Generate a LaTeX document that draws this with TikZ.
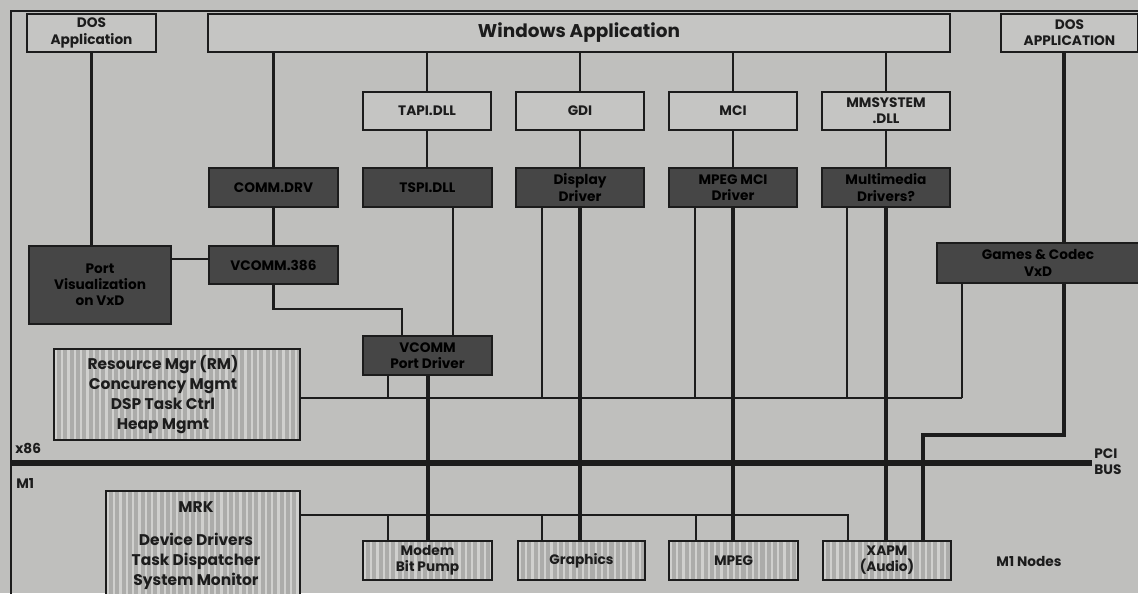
\documentclass[tikz,border=0pt]{standalone}
\usepackage{fontspec}
\setmainfont{Poppins}
\usetikzlibrary{calc}
\definecolor{bg}{RGB}{191,191,189}
\definecolor{lbg}{RGB}{197,197,195}
\definecolor{dk}{RGB}{70,70,70}
\definecolor{ink}{RGB}{28,28,28}
\definecolor{hbase}{RGB}{172,172,170}
\definecolor{hstripe}{RGB}{208,208,206}
\tikzset{
  sz/.style 2 args={minimum width=#1*0.02cm, minimum height=#2*0.02cm, inner sep=0pt},
  lbox/.style={rectangle, draw=ink, line width=1.1pt, fill=lbg, align=center, text=ink,
    font=\bfseries\fontsize{7.8}{9.2}\selectfont},
  dbox/.style={lbox, fill=dk, text=black},
  hbox/.style={lbox, fill=hbase, font=\bfseries\fontsize{8.8}{11.5}\selectfont,
    path picture={\foreach \i in {0,...,45}{
      \draw[hstripe, line width=1.3pt]
        ([xshift=\i*3.6pt+1pt]path picture bounding box.south west) --
        ([xshift=\i*3.6pt+1pt]path picture bounding box.north west);}}},
  plain/.style={text=ink, inner sep=0pt, align=center, font=\bfseries\fontsize{8.8}{11.5}\selectfont},
  conn/.style={draw=ink, line width=1.2pt},
  thk/.style={draw=ink, line width=2.3pt},
  busline/.style={draw=ink, line width=3.2pt},
  lbl/.style={text=ink, inner sep=0pt, font=\bfseries\fontsize{7.8}{9.2}\selectfont}
}
\begin{document}
\begin{tikzpicture}[x=0.02cm,y=-0.02cm]
\clip (0,0) rectangle (1138,593);
\fill[bg] (0,0) rectangle (1138,593);
% outer frame
\draw[conn] (11,600) -- (11,11) -- (1145,11);

% nodes
\node[lbox,sz={129}{38}] (dosl) at (91.5,33) {DOS\\Application};
\node[lbox,sz={742}{38},font=\bfseries\fontsize{10.5}{12}\selectfont] (win) at (579,33) {Windows Application};
\node[lbox,sz={137}{38}] (dosr) at (1069.5,33) {DOS\\APPLICATION};

\node[lbox,sz={128}{38}] (tapi) at (427,111) {TAPI.DLL};
\node[lbox,sz={128}{38}] (gdi) at (580,111) {GDI};
\node[lbox,sz={128}{38}] (mci) at (733,111) {MCI};
\node[lbox,sz={128}{38}] (mms) at (886,111) {MMSYSTEM\\.DLL};

\node[dbox,sz={129}{39}] (commdrv) at (273.5,187.5) {COMM.DRV};
\node[dbox,sz={129}{39}] (tspi) at (427.5,187.5) {TSPI.DLL};
\node[dbox,sz={128}{39}] (disp) at (580,187.5) {Display\\Driver};
\node[dbox,sz={128}{39}] (mpegd) at (733,187.5) {MPEG MCI\\Driver};
\node[dbox,sz={128}{39}] (mmd) at (886,187.5) {Multimedia\\Drivers?};

\node[dbox,sz={142}{78}] (port) at (100,285) {Port\\Visualization\\on VxD};
\node[dbox,sz={129}{38}] (v386) at (273.5,265) {VCOMM.386};
\node[dbox,sz={129}{39}] (pdrv) at (427.5,355.5) {VCOMM\\Port Driver};
\node[dbox,sz={202}{40}] (games) at (1038,263) {Games \& Codec\\VxD};

\node[hbox,sz={246}{91}] (rm) at (177,394.5) {};
\node[plain] (rmtxt) at (163,394.5) {Resource Mgr (RM)\\Concurency Mgmt\\DSP Task Ctrl\\Heap Mgmt};
\node[hbox,sz={194}{112}] (mrk) at (203,547) {};
\node[plain] (mrktxt) at (196,546) {MRK\\[7pt]Device Drivers\\Task Dispatcher\\System Monitor};

\node[hbox,sz={129}{39},font=\bfseries\fontsize{7.8}{9.2}\selectfont] (modem) at (427.5,560.5) {Modem\\Bit Pump};
\node[hbox,sz={127}{39},font=\bfseries\fontsize{7.8}{9.2}\selectfont] (graphics) at (581.5,560.5) {Graphics};
\node[hbox,sz={129}{39},font=\bfseries\fontsize{7.8}{9.2}\selectfont] (mpeg) at (733.5,560.5) {MPEG};
\node[hbox,sz={128}{39},font=\bfseries\fontsize{7.8}{9.2}\selectfont] (xapm) at (887,560.5) {XAPM\\(Audio)};

% helper coordinates
\coordinate (gx) at (1064,0);
\coordinate (y259) at (0,259);
\coordinate (j1) at (402,309);
\coordinate (x453) at (453,0);
\coordinate (h1) at (962,398);
\coordinate (x388) at (388,0);
\coordinate (x428) at (428,0);
\coordinate (x542) at (542,0);
\coordinate (x695) at (695,0);
\coordinate (x847) at (847,0);
\coordinate (g1) at (1064,435);
\coordinate (g2) at (923,435);
\coordinate (busL) at (11,463);
\coordinate (busR) at (1092,463);
\coordinate (m1) at (848,515);
\coordinate (m3) at (696,515);

% connectors, upper part
\draw[conn] (dosl.south) -- (dosl.south |- port.north);
\draw[conn] (win.south -| commdrv.north) -- (commdrv.north);
\draw[conn] (win.south -| tapi.north) -- (tapi.north);
\draw[conn] (win.south -| gdi.north) -- (gdi.north);
\draw[conn] (win.south -| mci.north) -- (mci.north);
\draw[conn] (win.south -| mms.north) -- (mms.north);
\draw[conn] (tapi.south) -- (tapi.south |- tspi.north);
\draw[conn] (gdi.south) -- (gdi.south |- disp.north);
\draw[conn] (mci.south) -- (mci.south |- mpegd.north);
\draw[conn] (mms.south) -- (mms.south |- mmd.north);
\draw[conn] (commdrv.south) -- (v386.north);
\draw[conn] (port.east |- y259) -- (v386.west |- y259);
\draw[conn] (v386.south) |- (j1) -- (j1 |- pdrv.north);
\draw[conn] (x453 |- tspi.south) -- (x453 |- pdrv.north);
\draw[thk] (gx |- dosr.south) -- (gx |- games.north);

% x86 side line
\draw[conn] (rm.east |- h1) -- (h1);
\draw[conn] (x388 |- pdrv.south) -- (x388 |- h1);
\draw[conn] (x542 |- disp.south) -- (x542 |- h1);
\draw[conn] (x695 |- mpegd.south) -- (x695 |- h1);
\draw[conn] (x847 |- mmd.south) -- (x847 |- h1);
\draw[conn] (h1 |- games.south) -- (h1);

% thick lines through the bus
\draw[thk] (x428 |- pdrv.south) -- (x428 |- modem.north);
\draw[thk] (disp.south) -- (disp.south |- graphics.north);
\draw[thk] (mpegd.south) -- (mpegd.south |- mpeg.north);
\draw[thk] (mmd.south) -- (mmd.south |- xapm.north);
\draw[thk] (gx |- games.south) -- (g1) -- (g2) -- (g2 |- xapm.north);

% PCI bus
\draw[busline] (busL) -- (busR);

% M1 side line
\draw[conn] (mrk.east |- m1) -- (m1) -- (m1 |- xapm.north);
\draw[conn] (x388 |- m1) -- (x388 |- modem.north);
\draw[conn] (x542 |- m1) -- (x542 |- graphics.north);
\draw[conn] (m3) -- (m3 |- mpeg.north);

% labels
\node[lbl, anchor=west] (x86) at (15,448) {x86};
\node[lbl, anchor=west] (m1l) at (16,483) {M1};
\node[lbl, anchor=west, align=left] (pci) at (1094,462) {PCI\\BUS};
\node[lbl] (nodes) at (1029,561) {M1 Nodes};
\end{tikzpicture}
\end{document}
